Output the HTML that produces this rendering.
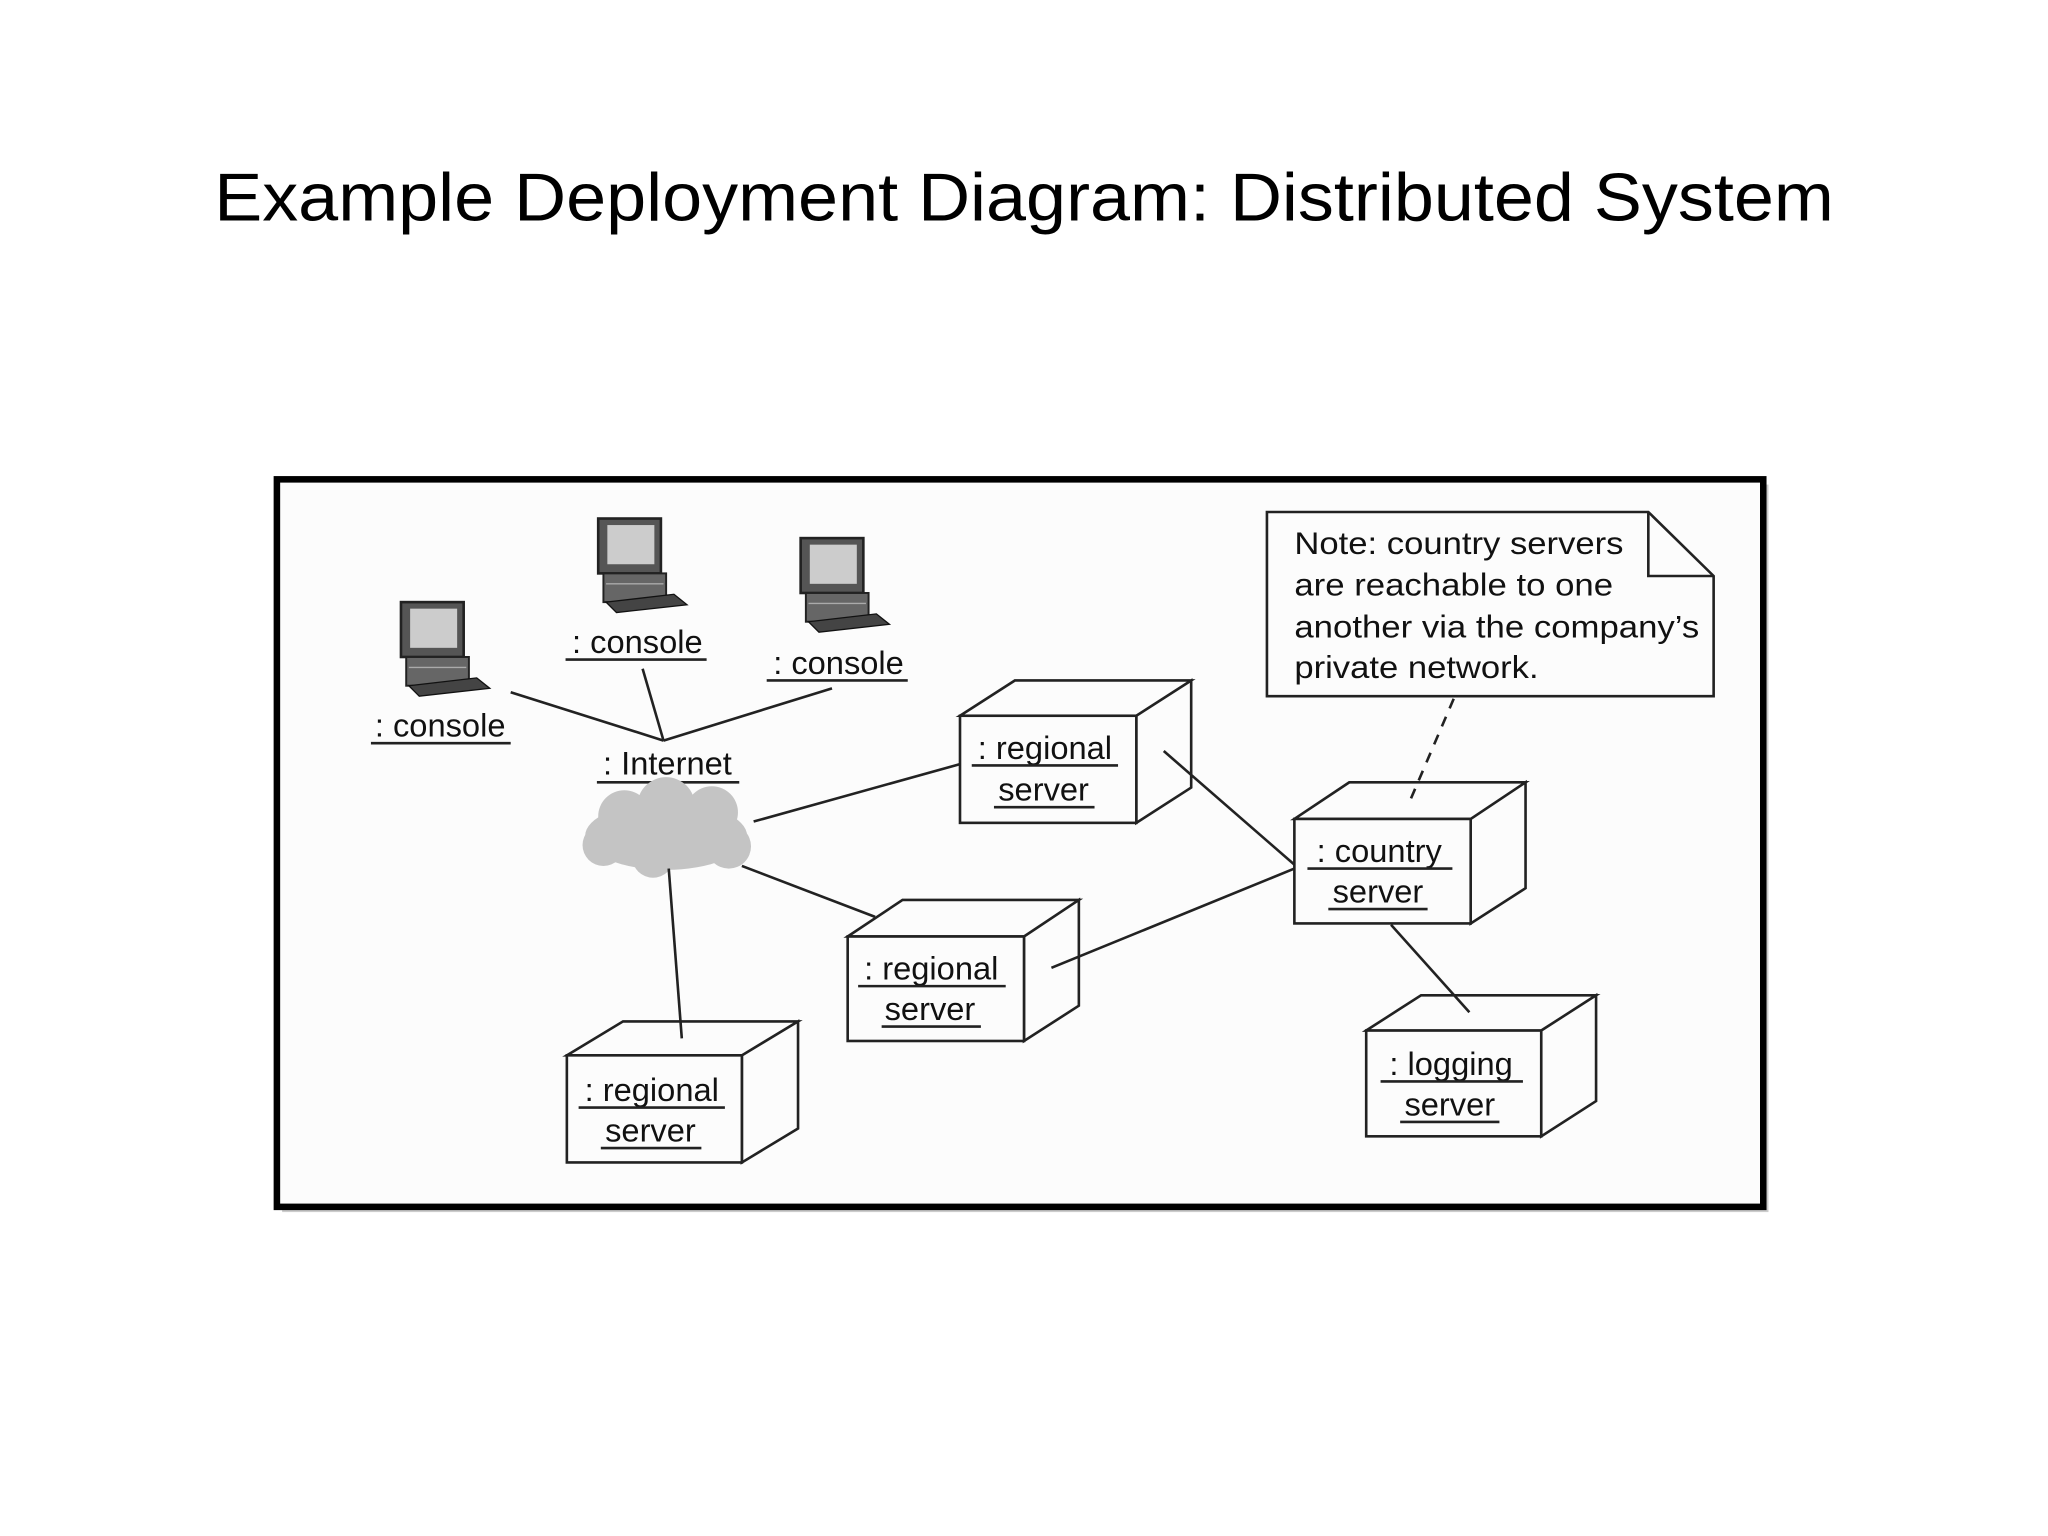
<!DOCTYPE html>
<html><head><meta charset="utf-8"><style>
html,body{margin:0;padding:0;background:#fff;}
svg{display:block}
text{font-family:"Liberation Sans",Arial,sans-serif;fill:#111}
</style></head><body>
<svg width="2048" height="1536" viewBox="0 0 1568 1176" xmlns="http://www.w3.org/2000/svg">
<rect width="1568" height="1176" fill="#fff"/>
<text x="784" y="169" font-size="52" text-anchor="middle" textLength="1240" lengthAdjust="spacingAndGlyphs" style="fill:#000">Example Deployment Diagram: Distributed System</text>
<rect x="216" y="371" width="1138" height="557" fill="#999" opacity="0.5"/>
<rect x="212" y="367" width="1138" height="557" fill="#fcfcfc" stroke="#000" stroke-width="5"/>
<defs>
<g id="pc">
<rect x="0" y="0" width="48" height="42" fill="#555" stroke="#222" stroke-width="2"/>
<rect x="7" y="5" width="36" height="30" fill="#ccc"/>
<rect x="4" y="42" width="48" height="22" fill="#666" stroke="#222" stroke-width="1.5"/>
<line x1="6" y1="50" x2="50" y2="50" stroke="#aaa"/>
<polygon points="6,64 58,58 68,66 14,72" fill="#444" stroke="#111"/>
</g>
</defs>
<use href="#pc" x="307" y="461"/>
<use href="#pc" x="458" y="397"/>
<use href="#pc" x="613" y="412"/>
<g font-size="25" text-anchor="middle">
<text x="337" y="564">: console</text><line x1="284" y1="569" x2="391" y2="569" stroke="#222" stroke-width="2"/>
<text x="488" y="500">: console</text><line x1="433" y1="505" x2="541" y2="505" stroke="#222" stroke-width="2"/>
<text x="642" y="516">: console</text><line x1="587" y1="521" x2="695" y2="521" stroke="#222" stroke-width="2"/>
<text x="511" y="593">: Internet</text><line x1="457" y1="599" x2="566" y2="599" stroke="#222" stroke-width="2"/>
</g>
<g fill="#c4c4c4">
<ellipse cx="510" cy="640" rx="62" ry="26"/>
<circle cx="478" cy="625" r="20"/><circle cx="510" cy="617" r="22"/><circle cx="545" cy="622" r="20"/>
<circle cx="462" cy="647" r="16"/><circle cx="558" cy="648" r="17"/><circle cx="500" cy="656" r="16"/>
</g>
<g stroke="#222" stroke-width="2" fill="#fcfcfc">
<path d="M735,548 L777,521 L912,521 L870,548 Z M870,548 L912,521 L912,603 L870,630 Z"/><rect x="735" y="548" width="135" height="82"/>
<path d="M649,717 L691,689 L826,689 L784,717 Z M784,717 L826,689 L826,770 L784,797 Z"/><rect x="649" y="717" width="135" height="80"/>
<path d="M434,808 L477,782 L611,782 L568,808 Z M568,808 L611,782 L611,864 L568,890 Z"/><rect x="434" y="808" width="134" height="82"/>
<path d="M991,627 L1033,599 L1168,599 L1126,627 Z M1126,627 L1168,599 L1168,680 L1126,707 Z"/><rect x="991" y="627" width="135" height="80"/>
<path d="M1046,789 L1088,762 L1222,762 L1180,789 Z M1180,789 L1222,762 L1222,843 L1180,870 Z"/><rect x="1046" y="789" width="134" height="81"/>
<path d="M970,392 L1262,392 L1312,441 L1312,533 L970,533 Z"/>
<path d="M1262,392 L1262,441 L1312,441" fill="none"/>
</g>
<g stroke="#222" stroke-width="2" fill="none">
<line x1="391" y1="530" x2="508" y2="567"/>
<line x1="492" y1="512" x2="508" y2="567"/>
<line x1="637" y1="527" x2="508" y2="567"/>
<line x1="577" y1="629" x2="735" y2="585"/>
<line x1="568" y1="663" x2="670" y2="702"/>
<line x1="512" y1="665" x2="522" y2="795"/>
<line x1="891" y1="575" x2="991" y2="662"/>
<line x1="805" y1="741" x2="991" y2="665"/>
<line x1="1065" y1="708" x2="1125" y2="775"/>
<line x1="1113" y1="535" x2="1080" y2="612" stroke-dasharray="8,7"/>
</g>
<g font-size="25" text-anchor="middle">
<text x="800" y="581">: regional</text><line x1="744" y1="586" x2="856" y2="586" stroke="#222" stroke-width="2"/>
<text x="799" y="613">server</text><line x1="761" y1="618" x2="838" y2="618" stroke="#222" stroke-width="2"/>
<text x="713" y="750">: regional</text><line x1="657" y1="755" x2="770" y2="755" stroke="#222" stroke-width="2"/>
<text x="712" y="781">server</text><line x1="675" y1="786" x2="751" y2="786" stroke="#222" stroke-width="2"/>
<text x="499" y="843">: regional</text><line x1="443" y1="848" x2="555" y2="848" stroke="#222" stroke-width="2"/>
<text x="498" y="874">server</text><line x1="460" y1="879" x2="537" y2="879" stroke="#222" stroke-width="2"/>
<text x="1056" y="660">: country</text><line x1="1001" y1="665" x2="1112" y2="665" stroke="#222" stroke-width="2"/>
<text x="1055" y="691">server</text><line x1="1017" y1="696" x2="1093" y2="696" stroke="#222" stroke-width="2"/>
<text x="1111" y="823">: logging</text><line x1="1057" y1="828" x2="1166" y2="828" stroke="#222" stroke-width="2"/>
<text x="1110" y="854">server</text><line x1="1072" y1="859" x2="1148" y2="859" stroke="#222" stroke-width="2"/>
</g>
<g font-size="24">
<text x="991" y="424" textLength="252" lengthAdjust="spacingAndGlyphs">Note: country servers</text>
<text x="991" y="456" textLength="244" lengthAdjust="spacingAndGlyphs">are reachable to one</text>
<text x="991" y="488" textLength="310" lengthAdjust="spacingAndGlyphs">another via the company’s</text>
<text x="991" y="519" textLength="187" lengthAdjust="spacingAndGlyphs">private network.</text>
</g>
</svg>
</body></html>
